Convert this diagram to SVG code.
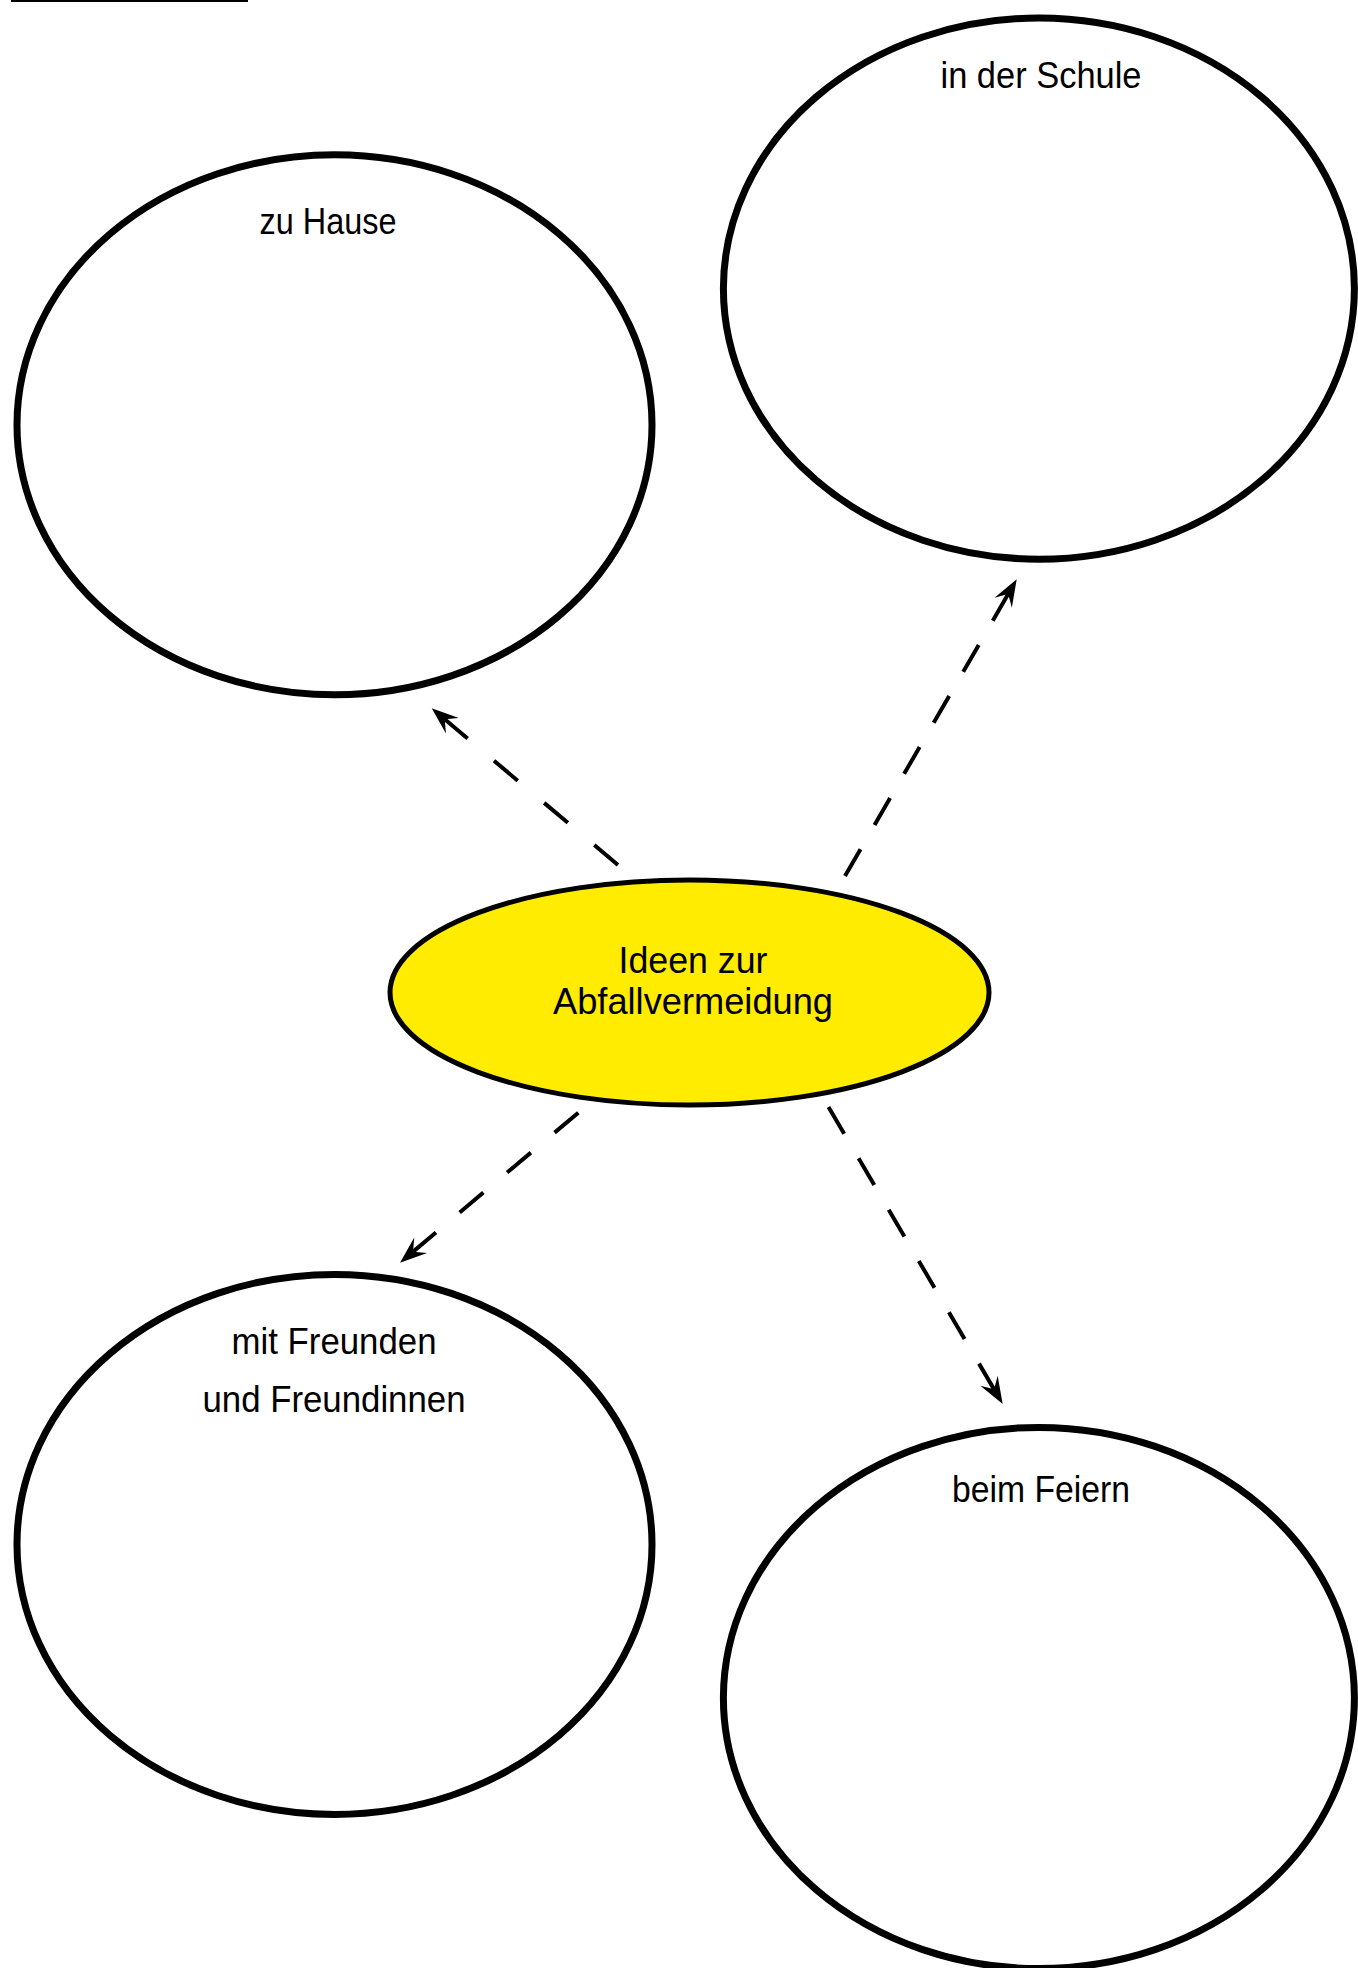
<svg xmlns="http://www.w3.org/2000/svg" width="1358" height="1968" viewBox="0 0 1358 1968">
  <style>
    .bubble { fill: #ffffff; stroke: #000000; stroke-width: 7; }
    .center { fill: #ffec00; stroke: #000000; stroke-width: 5; }
    .label { font-family: "Liberation Sans", Arial, sans-serif; font-size: 37px; fill: #000000; text-anchor: middle; }
    .conn { fill: none; stroke: #000000; stroke-width: 4; stroke-linecap: butt; marker-end: url(#arrow); }
  </style>
  <defs>
    <marker id="arrow" viewBox="-30 -12 32 24" refX="-15" refY="0" markerWidth="32" markerHeight="24" markerUnits="userSpaceOnUse" orient="auto">
      <path d="M0,0 L-27,-10 L-17,0 L-27,10 Z" fill="#000000"/>
    </marker>
  </defs>
  <rect x="0" y="0" width="1358" height="1968" fill="#ffffff"/>
  <rect x="11" y="0" width="237" height="2" fill="#000000"/>

  <g id="connectors">
    <path class="conn" d="M618,865 L443.2,718.0" stroke-dasharray="31 34.5"/>
    <path class="conn" d="M845,876 L1009.2,592.3" stroke-dasharray="31 28"/>
    <path class="conn" d="M578.3,1112.7 L411.5,1253.0" stroke-dasharray="31 31"/>
    <path class="conn" d="M828.5,1107 L995.1,1391.1" stroke-dasharray="31 28.5"/>
  </g>

  <g id="node-zu-hause">
    <ellipse class="bubble" cx="334.5" cy="424.8" rx="317.5" ry="270"/>
    <text class="label" x="328" y="234" textLength="137" lengthAdjust="spacingAndGlyphs">zu Hause</text>
  </g>

  <g id="node-in-der-schule">
    <ellipse class="bubble" cx="1038.9" cy="288.6" rx="315.5" ry="270.6"/>
    <text class="label" x="1041" y="88" textLength="201" lengthAdjust="spacingAndGlyphs">in der Schule</text>
  </g>

  <g id="node-center">
    <ellipse class="center" cx="689.5" cy="992.5" rx="299.5" ry="112.5"/>
    <text class="label" x="693" y="973" textLength="149" lengthAdjust="spacingAndGlyphs">Ideen zur</text>
    <text class="label" x="693" y="1014" textLength="280" lengthAdjust="spacingAndGlyphs">Abfallvermeidung</text>
  </g>

  <g id="node-freunde">
    <ellipse class="bubble" cx="334.5" cy="1544.4" rx="317.5" ry="270"/>
    <text class="label" x="334" y="1354" textLength="205" lengthAdjust="spacingAndGlyphs">mit Freunden</text>
    <text class="label" x="334" y="1412" textLength="263" lengthAdjust="spacingAndGlyphs">und Freundinnen</text>
  </g>

  <g id="node-feiern">
    <ellipse class="bubble" cx="1038.9" cy="1698" rx="315.5" ry="270.6"/>
    <text class="label" x="1041" y="1502" textLength="178" lengthAdjust="spacingAndGlyphs">beim Feiern</text>
  </g>
</svg>
